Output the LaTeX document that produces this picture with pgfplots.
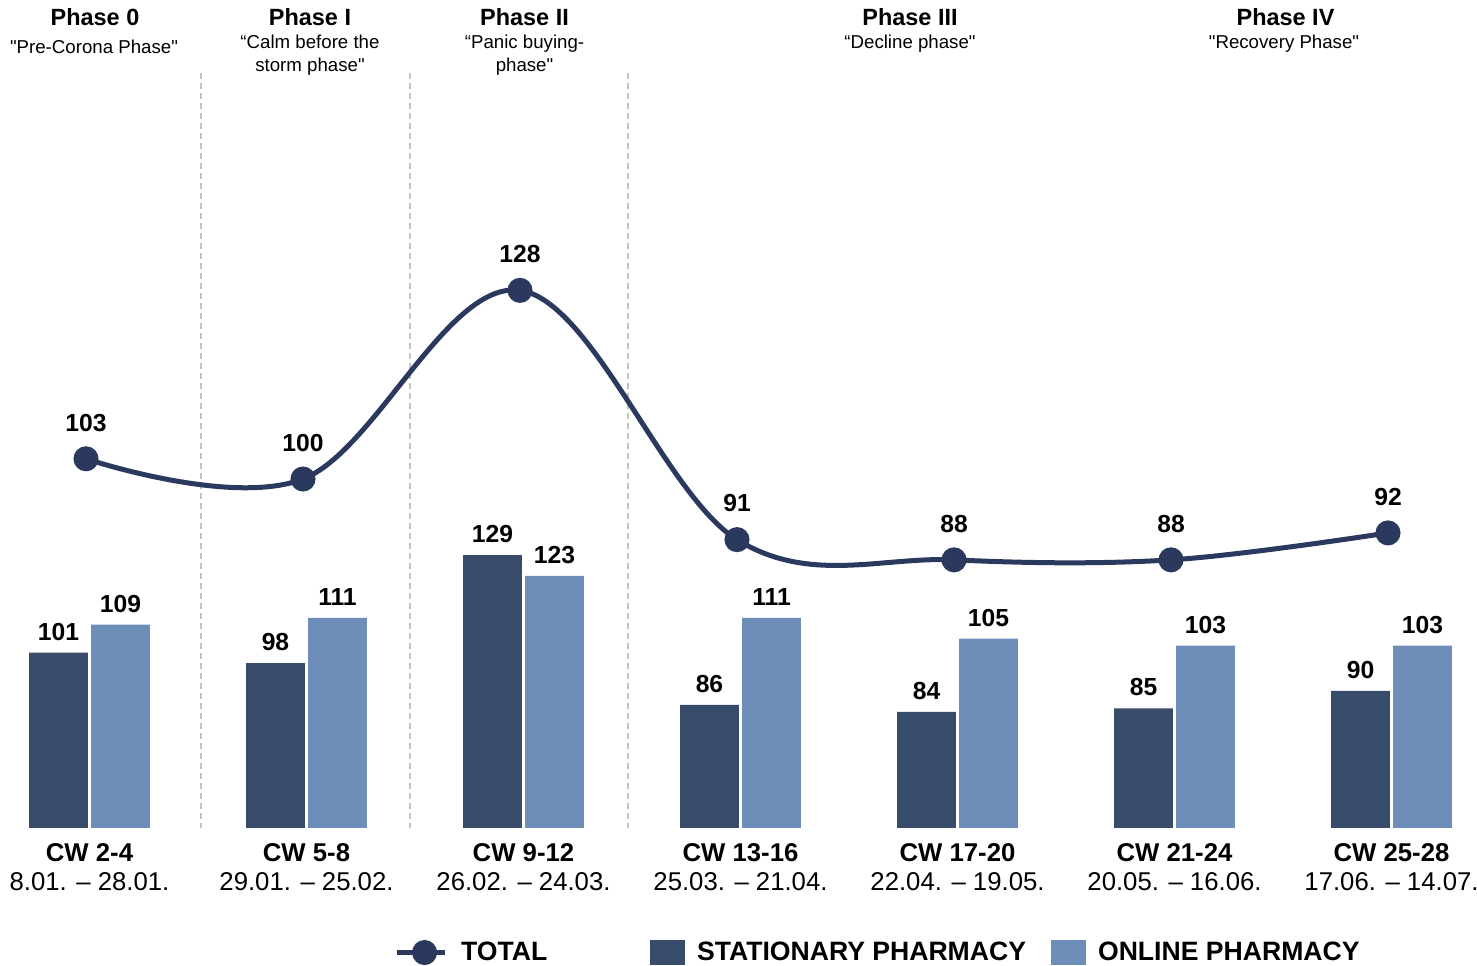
\documentclass[border=0pt]{standalone}
\usepackage{pgfplots}
\pgfplotsset{compat=1.18}
\usepackage{fontspec}
\setmainfont{Liberation Sans}
\newfontfamily\plainfont{Liberation Sans}
\definecolor{darkbar}{RGB}{55,75,107}
\definecolor{lightbar}{RGB}{110,142,186}
\definecolor{linecol}{RGB}{44,57,94}
\definecolor{sepcol}{RGB}{195,195,195}

\begin{document}
\begin{tikzpicture}
\useasboundingbox (0pt,-103.5pt) rectangle (1107.75pt,621pt);
% phase separators
\begin{scope}[x=0.75pt,y=-0.75pt,shift={(0pt,621pt)}]
\foreach \xx in {201,410,628} \draw[sepcol, line width=0.9pt, dash pattern=on 4.5pt off 3pt] (\xx,73) -- (\xx,828);
\end{scope}

\begin{axis}[
  at={(0pt,0pt)}, anchor=south west,
  scale only axis, width=1107.75pt, height=621pt,
  xmin=-0.4124, xmax=6.394,
  ymin=50.7, ymax=288.2,
  axis line style={draw=none}, tick style={draw=none},
  ytick=\empty,
  xtick={0,1,2,3,4,5,6},
  xticklabels={{\textbf{CW 2-4}\\8.01. – 28.01.},{\textbf{CW 5-8}\\29.01. – 25.02.},{\textbf{CW 9-12}\\26.02. – 24.03.},{\textbf{CW 13-16}\\25.03. – 21.04.},{\textbf{CW 17-20}\\22.04. – 19.05.},{\textbf{CW 21-24}\\20.05. – 16.06.},{\textbf{CW 25-28}\\17.06. – 14.07.}},
  xticklabel style={align=center, inner sep=0pt, anchor=north, yshift=-7.5pt, font=\fontsize{19.3}{21.6}\selectfont},
  ybar, bar width=43.9pt,
  /pgf/number format/assume math mode=true,
  nodes near coords,
  every node near coord/.append style={font=\bfseries\fontsize{18.5}{20}\selectfont, anchor=south, inner sep=0pt, yshift=9pt, black},
  legend columns=2,
  legend style={at={(0.4401,-0.1504)}, anchor=west, draw=none, fill=none, inner sep=0pt, outer sep=0pt,
    font=\bfseries\fontsize{19.95}{22}\selectfont, nodes={inner sep=0pt},
    /tikz/every odd column/.append style={column sep=9pt},
    /tikz/every even column/.append style={column sep=18.75pt}},
  clip=false,
]
\addplot[fill=darkbar, draw=none, bar shift=-23.25pt,
  legend image code/.code={\fill[darkbar] (0pt,-9.4pt) rectangle (26.25pt,9.4pt);}]
  coordinates {(0,101) (1,98) (2,129) (3,86) (4,84) (5,85) (6,90)};
\addlegendentry{STATIONARY PHARMACY}
\addplot[fill=lightbar, draw=none, bar shift=23.25pt,
  legend image code/.code={\fill[lightbar] (0pt,-9.4pt) rectangle (26.25pt,9.4pt);}]
  coordinates {(0,109) (1,111) (2,123) (3,111) (4,105) (5,103) (6,103)};
\addlegendentry{ONLINE PHARMACY}
\end{axis}

\begin{axis}[
  at={(0pt,0pt)}, anchor=south west,
  scale only axis, width=1107.75pt, height=621pt,
  xmin=-0.3963, xmax=6.4101, ymin=48.2, ymax=171.1,
  hide axis, clip=false,
  /pgf/number format/assume math mode=true,
  legend style={at={(0.2668,-0.1504)}, anchor=west, draw=none, fill=none, inner sep=0pt, outer sep=0pt,
    font=\bfseries\fontsize{19.95}{22}\selectfont, nodes={inner sep=0pt},
    /tikz/every odd column/.append style={column sep=10.5pt}},
  legend image code/.code={\draw[mark repeat=2,mark phase=2,#1] plot coordinates {(0pt,0pt) (21pt,0pt) (36pt,0pt)};},
]
\addplot[linecol, line width=3.75pt, smooth, tension=0.6, mark=*, mark size=7.5pt,
  mark options={draw=none, fill=linecol},
  nodes near coords,
  every node near coord/.append style={font=\bfseries\fontsize{18.5}{20}\selectfont, anchor=south, inner sep=0pt, yshift=18.75pt, black}]
  coordinates {(0,103) (1,100) (2,128) (3,91) (4,88) (5,88) (6,92)};
\addlegendentry{TOTAL}
\end{axis}

\begin{scope}[x=0.75pt,y=-0.75pt,shift={(0pt,621pt)}]
\tikzset{ph/.style={anchor=base, font=\bfseries\fontsize{17.6}{20}\selectfont, inner sep=0pt},
         sub/.style={anchor=base, font=\plainfont\fontsize{14}{17}\selectfont, inner sep=0pt}}
\node[ph] at (95,26) {Phase 0};
\node[sub] at (94,54) {"Pre-Corona Phase"};
\node[ph] at (310,26) {Phase I};
\node[sub] at (310,49) {“Calm before the};
\node[sub] at (310,72) {storm phase"};
\node[ph] at (524.5,26) {Phase II};
\node[sub] at (524.5,49) {“Panic buying-};
\node[sub] at (524.5,72) {phase"};
\node[ph] at (910,26) {Phase III};
\node[sub] at (910,49) {“Decline phase"};
\node[ph] at (1285.5,26) {Phase IV};
\node[sub] at (1284,48.3) {"Recovery Phase"};
\end{scope}
\end{tikzpicture}
\end{document}
